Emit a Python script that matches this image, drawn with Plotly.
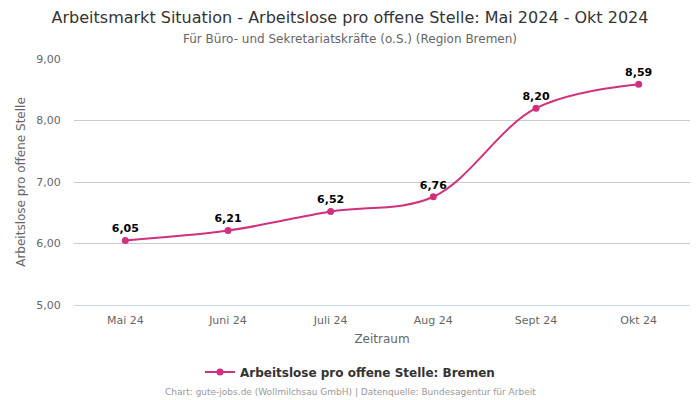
import plotly.graph_objects as go

categories = ["Mai 24", "Juni 24", "Juli 24", "Aug 24", "Sept 24", "Okt 24"]
values = [6.05, 6.21, 6.52, 6.76, 8.20, 8.59]
labels = ["6,05", "6,21", "6,52", "6,76", "8,20", "8,59"]
y_ticks = [5, 6, 7, 8, 9]
y_tick_labels = ["5,00", "6,00", "7,00", "8,00", "9,00"]
series_name = "Arbeitslose pro offene Stelle: Bremen"

color = "#d0307c"
font = "DejaVu Sans"

fig = go.Figure()
fig.add_trace(go.Scatter(
    x=categories, y=values, mode="lines+markers+text",
    name=series_name,
    line=dict(color=color, width=2, shape="spline", smoothing=1.0),
    marker=dict(color=color, size=7),
    text=labels, textposition="top center",
    textfont=dict(family=font, size=11, color="#000000", weight="bold"),
    cliponaxis=False,
))

fig.update_layout(
    width=700, height=400,
    margin=dict(l=74, r=10, t=59, b=95, autoexpand=False),
    paper_bgcolor="white", plot_bgcolor="white",
    font=dict(family=font, color="#666666"),
    title=dict(
        text="Arbeitsmarkt Situation - Arbeitslose pro offene Stelle: Mai 2024 - Okt 2024",
        x=0.5, xref="container", xanchor="center", y=0.9575, yref="container", yanchor="middle",
        font=dict(size=16, color="#333333", family=font),
    ),
    showlegend=True,
    legend=dict(orientation="h", x=0.5, xref="container", xanchor="center",
                y=0.07, yref="container", yanchor="middle",
                font=dict(size=12, color="#333333", family=font, weight="bold")),
    xaxis=dict(
        type="category", range=[-0.5, len(categories) - 0.5],
        showgrid=False, zeroline=False, automargin=False,
        showline=True, linecolor="#ccd6eb", linewidth=1,
        tickfont=dict(size=11, color="#666666"), ticks="outside", ticklen=5, tickcolor="rgba(0,0,0,0)",
        title=dict(text="Zeitraum", font=dict(size=12, color="#666666"), standoff=8),
    ),
    yaxis=dict(
        range=[5, 9], tickvals=y_ticks, ticktext=y_tick_labels, automargin=False,
        showgrid=True, gridcolor="#cccccc", gridwidth=1, zeroline=False,
        tickfont=dict(size=11, color="#666666"), ticks="outside", ticklen=10, tickcolor="rgba(0,0,0,0)",
        title=dict(text="Arbeitslose pro offene Stelle", font=dict(size=12, color="#666666"), standoff=8),
    ),
    annotations=[
        dict(text="Für Büro- und Sekretariatskräfte (o.S.) (Region Bremen)",
             xref="paper", yref="paper", x=0.5, y=1.0, yshift=20, xanchor="center", yanchor="middle",
             xshift=-32, showarrow=False, font=dict(size=12, color="#666666", family=font)),
        dict(text="Chart: gute-jobs.de (Wollmilchsau GmbH) | Datenquelle: Bundesagentur für Arbeit",
             xref="paper", yref="paper", x=0.5, y=0.0, yshift=-87, xshift=-32, xanchor="center", yanchor="middle",
             showarrow=False, font=dict(size=9, color="#999999", family=font)),
    ],
)

fig.write_html("out.html", config={"displayModeBar": False},
               post_script="document.body.style.margin='0';document.body.style.padding='0';")
